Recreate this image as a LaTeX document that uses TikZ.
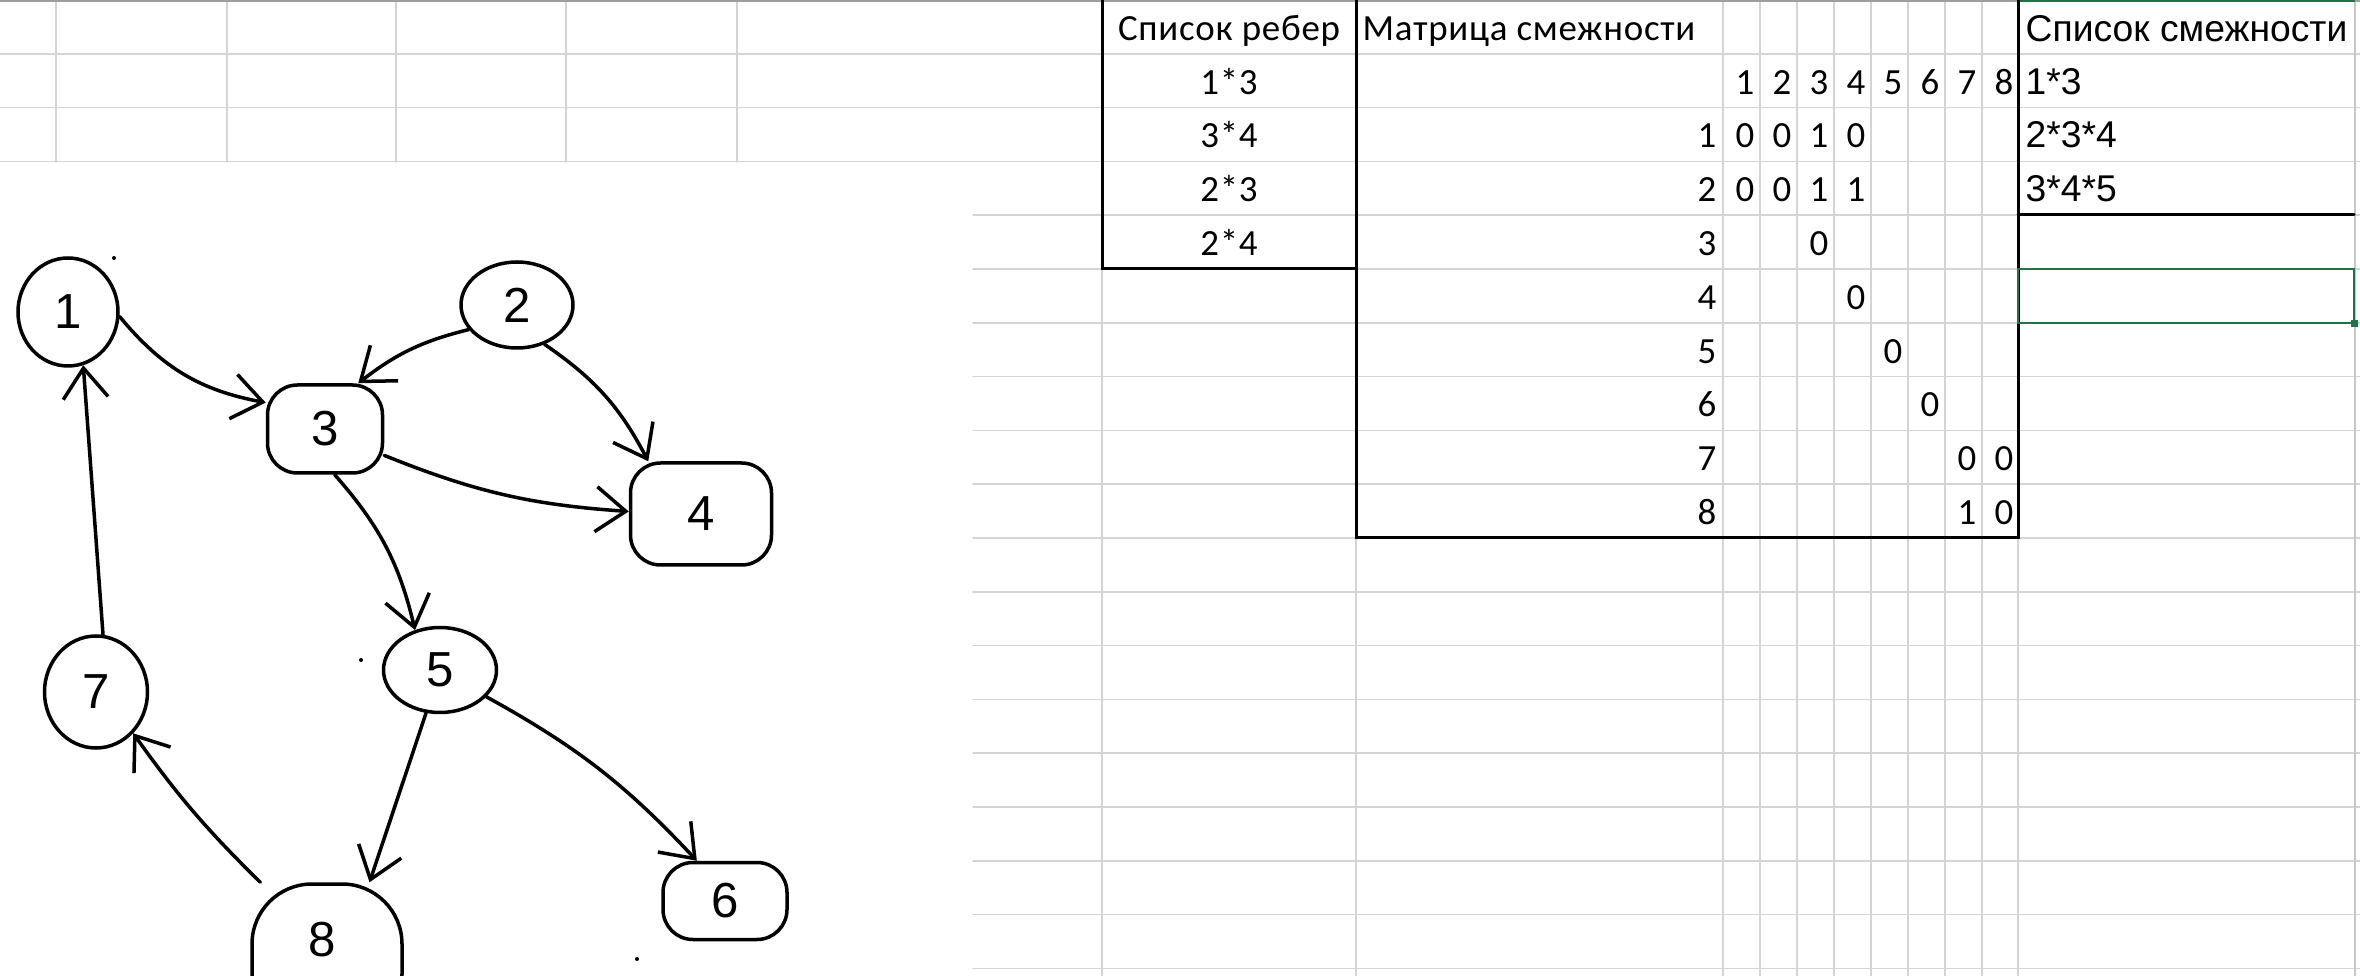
\documentclass[tikz,border=0pt]{standalone}
\usepackage{fontspec}
\setmainfont{Carlito}[LetterSpace=2]
\newfontfamily\listfont{Liberation Sans}
\newfontfamily\handfont{Liberation Sans}
\usetikzlibrary{arrows.meta,shapes.geometric}
\definecolor{gridgray}{HTML}{D4D4D4}
\definecolor{topgray}{HTML}{9E9E9E}
\definecolor{edgegray}{HTML}{C6C6C6}
\definecolor{selgreen}{HTML}{217346}
\begin{document}
\begin{tikzpicture}[x=0.1mm, y=-0.1mm, line cap=round,
  every node/.style={inner sep=0pt, font=\fontsize{10.5}{12}\selectfont},
  gridline/.style={draw=gridgray, line width=0.15mm},
  border/.style={line width=0.3mm},
  vertex/.style={draw, ellipse, line width=0.35mm, font=\handfont\fontsize{14}{16}\selectfont},
  blob/.style={vertex, rectangle, rounded corners=3mm},
  edge/.style={->, line width=0.35mm},
  >={Straight Barb[length=3mm,width=4.5mm]}]

\useasboundingbox (0,0) rectangle (2360,976);
\fill[white] (0,0) rectangle (2360,976);

% ---------- sheet grid ----------
\foreach \k in {1,2,3} \draw[gridline] (0,{53.8*\k}) -- (2360,{53.8*\k});
\foreach \k in {4,...,18} \draw[gridline] (973,{53.8*\k}) -- (2360,{53.8*\k});
\foreach \x in {56,227,396,566,737} \draw[gridline] (\x,0) -- (\x,162);
\foreach \x in {1102,1356,1723,1760,1797,1834,1871,1908,1945,1982,2018} \draw[gridline] (\x,0) -- (\x,976);
\draw[draw=edgegray, line width=0.25mm] (2355,0) -- (2355,976);
\draw[draw=topgray, line width=0.2mm] (0,1) -- (2360,1);
\draw[draw=selgreen, line width=0.2mm] (2018,1) -- (2354,1);

% ---------- cell borders and selection ----------
\draw[border] (1102,0) -- (1102,269) -- (1356,269);
\draw[border] (1356,0) -- (1356,538) -- (2018,538) -- (2018,0);
\draw[border] (2018,215) -- (2354,215);
\draw[selgreen, line width=0.25mm] (2018,269) rectangle (2354,323);
\fill[selgreen] (2351,320) rectangle (2358,327);

% ---------- edge list ----------
\node[anchor=base] (edgehead) at (1229,40.3) {Список ребер};
\foreach \t [count=\r] in {1*3,3*4,2*3,2*4}
  \node[anchor=base] (edge\r) at (1229,{53.8*(\r+1)-13.5}) {\t};

% ---------- adjacency matrix ----------
\node[anchor=base west] (mathead) at (1362,40.3) {Матрица смежности};
\foreach \c in {1,...,8} {
  \node[anchor=base east] (col\c) at ({1723+37*\c-5},94.1) {\c};
  \node[anchor=base east] (row\c) at (1717,{53.8*(\c+2)-13.5}) {\c};
}
\foreach \r/\c/\v in {1/1/0,1/2/0,1/3/1,1/4/0,2/1/0,2/2/0,2/3/1,2/4/1,3/3/0,4/4/0,
                      5/5/0,6/6/0,7/7/0,7/8/0,8/7/1,8/8/0}
  \node[anchor=base east] (m\r\c) at ({1723+37*\c-5},{53.8*(\r+2)-13.5}) {\v};

% ---------- adjacency list ----------
\begin{scope}[every node/.style={inner sep=0pt, anchor=base west, font=\listfont\fontsize{10.6}{13}\selectfont}]
  \node (adjhead) at (2025,41.5) {Список смежности};
  \foreach \t [count=\r] in {1*3,2*3*4,3*4*5}
    \node (adj\r) at (2025,{53.8*(\r+1)-13.5}) {\t};
\end{scope}

% ---------- hand-drawn graph ----------
\node[vertex, minimum width=10mm, minimum height=10.8mm] (n1) at (68,312) {1};
\node[vertex, minimum width=11.2mm, minimum height=8.6mm] (n2) at (517,305) {2};
\node[blob, minimum width=11.5mm, minimum height=8.8mm] (n3) at (325,429) {3};
\node[blob, minimum width=14.1mm, minimum height=10.2mm] (n4) at (701,514) {4};
\node[vertex, minimum width=11.3mm, minimum height=8.5mm] (n5) at (440,670) {5};
\node[blob, minimum width=12.4mm, minimum height=7.7mm] (n6) at (725,901) {6};
\node[vertex, minimum width=10.3mm, minimum height=11.2mm] (n7) at (96,692) {7};
\node[blob, rounded corners=6mm, minimum width=15mm, minimum height=15mm] (n8) at (327,959) {};
\node[font=\handfont\fontsize{14}{16}\selectfont] (n8label) at (322,940) {8};

\draw[edge] (n1.-5) to[bend right=20] (n3.156);
\draw[edge] (n2.207) to[bend right=12] (n3.54);
\draw[edge] (n2.-55) to[bend left=14] (n4.135);
\draw[edge] (n3.-24) to[bend right=9] (n4.178);
\draw[edge] (n3.-78) to[bend left=14] (n5.122);
\draw[edge] (n5.-108) -- (n8.61);
\draw[edge] (n5.-30) to[bend left=9] (n6.125);
\draw[edge] (n8.131) to[bend left=5] (n7.-48);
\draw[edge] (n7.83) -- (n1.-74);

\foreach \p in {(114,258),(361,660),(637,959)} \fill \p circle (0.2mm);

\end{tikzpicture}
\end{document}
